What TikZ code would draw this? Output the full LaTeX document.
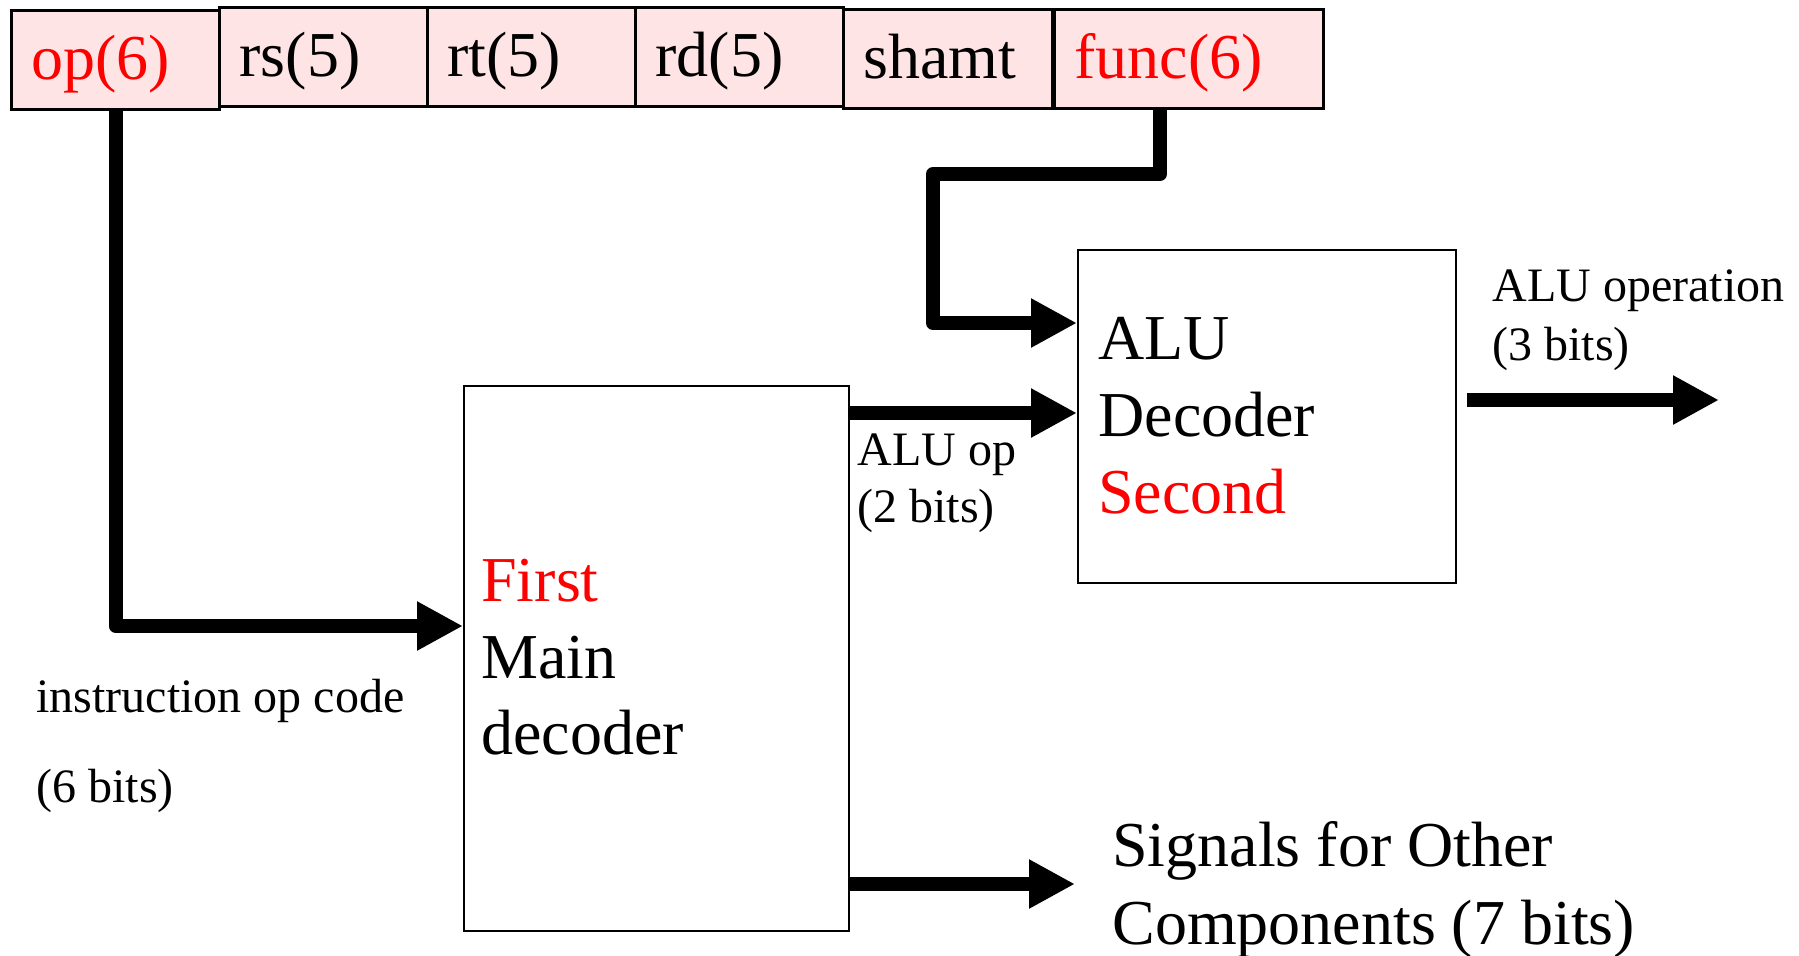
\documentclass[tikz,border=0pt]{standalone}
\usepackage{fontspec}
\setmainfont{Liberation Serif}
\usetikzlibrary{arrows.meta}
\definecolor{boxpink}{RGB}{255,228,230}
\definecolor{hot}{RGB}{255,0,0}
\begin{document}
\begin{tikzpicture}[x=0.5pt,y=-0.5pt,
  field/.style={draw=black, line width=1.5pt, fill=boxpink, anchor=north west,
    inner xsep=10pt, inner ysep=0pt, minimum height=49.5pt, align=left,
    text height=24pt, text depth=4.5pt,
    font=\fontsize{32}{38}\selectfont},
  block/.style={draw=black, line width=1.2pt, anchor=north west, inner sep=0pt},
  wire/.style={line width=7pt, line join=round, -{Triangle[length=23pt,width=23pt]}},
  big/.style={anchor=base west, inner sep=0pt, font=\fontsize{32}{38}\selectfont},
  small/.style={anchor=base west, inner sep=0pt, font=\fontsize{24}{29}\selectfont}]
\useasboundingbox (0,0) rectangle (1799,955);
% instruction fields
\node[field, text width=84pt, text=hot] (op) at (10,9) {op(6)};
\node[field, text width=84pt] (rs) at (218,6) {rs(5)};
\node[field, text width=84pt] (rt) at (426,6) {rt(5)};
\node[field, text width=84pt] (rd) at (634,6) {rd(5)};
\node[field, text width=84.5pt] (shamt) at (842,8) {shamt};
\node[field, text width=114.5pt, text=hot] (func) at (1053,8) {func(6)};
% blocks
\node[block, minimum width=192.5pt, minimum height=272.5pt] (main) at (463,385) {};
\node[block, minimum width=189pt, minimum height=166.5pt] (alu) at (1077,249) {};
% block texts
\node[big, text=hot] (m1) at (481,601) {First};
\node[big] (m2) at (481,678) {Main};
\node[big] (m3) at (481,754) {decoder};
\node[big] (a1) at (1098,359) {ALU};
\node[big] (a2) at (1098,436) {Decoder};
\node[big, text=hot] (a3) at (1098,513) {Second};
% labels
\node[small] (l1) at (36,712) {instruction op code};
\node[small] (l2) at (36,802) {(6 bits)};
\node[small] (l3) at (1492,301) {ALU operation};
\node[small] (l4) at (1492,360) {(3 bits)};
\node[small] (l5) at (857,465) {ALU op};
\node[small] (l6) at (857,522) {(2 bits)};
\node[big] (s1) at (1112,866) {Signals for Other};
\node[big] (s2) at (1112,944) {Components (7 bits)};
% connectors
\coordinate (aluout) at (1719,400);
\coordinate (sigtip) at (1075,884);
\draw[wire] (op.south) |- (main.west |- 0,626);
\draw[wire] (func.south -| 1160,0) -- (1160,174) -- (933,174) |- (alu.west |- 0,323);
\draw[wire] (main.east |- 0,413) -- (alu.west |- 0,413);
\draw[wire, shorten <=5pt] (alu.east |- 0,400) -- (aluout);
\draw[wire] (main.east |- 0,884) -- (sigtip);
\end{tikzpicture}
\end{document}
